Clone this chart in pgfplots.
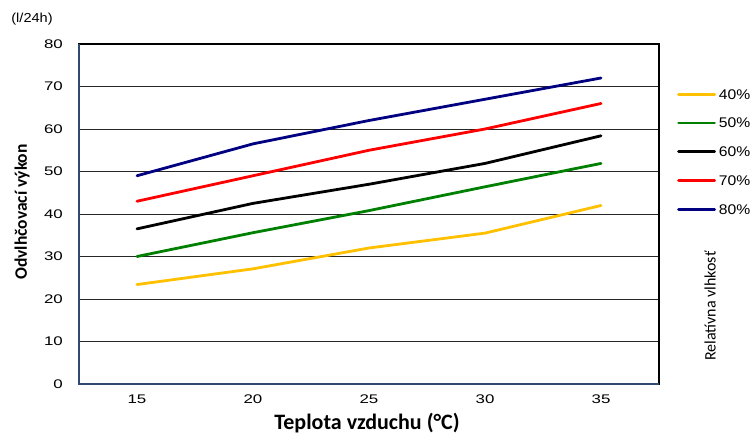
\documentclass[border=0pt]{standalone}
\usepackage{pgfplots}
\pgfplotsset{compat=1.18}
\usepackage{fontspec}
\setmainfont{Liberation Sans}
\newfontfamily\calibri{Carlito}
\newfontfamily\tickfont[FakeStretch=1.35]{Liberation Sans}
\newfontfamily\legfont[FakeStretch=1.12]{Liberation Sans}
\definecolor{cyel}{HTML}{FFC000}
\definecolor{cgrn}{HTML}{008000}
\definecolor{cred}{HTML}{FF0000}
\definecolor{cnav}{HTML}{000080}
\definecolor{cax}{HTML}{2F4A70}
\begin{document}
\begin{tikzpicture}
\useasboundingbox (-79bp,-51bp) rectangle (672bp,384bp);
\begin{axis}[
  at={(0,0)}, anchor=south west,
  scale only axis, width=580bp, height=340bp,
  xmin=12.5, xmax=37.5, ymin=0, ymax=80,
  xtick={15,20,25,30,35}, ytick={0,10,...,80},
  major tick length=0pt,
  ymajorgrids, grid style={black!85, line width=0.9bp},
  axis line style={line width=1.1bp, black},
  /pgf/number format/assume math mode=true,
  tick label style={font=\tickfont\fontsize{12.5bp}{14bp}\selectfont, inner sep=0pt},
  xticklabel style={anchor=north, yshift=-11bp},
  yticklabel style={anchor=east, xshift=-16bp},
  legend style={at={(rel axis cs:1.031,0.8677)}, anchor=north west, draw=none, fill=none,
    inner sep=0pt, font=\legfont\fontsize{14bp}{16bp}\selectfont, row sep=18.75bp,
    nodes={inner sep=0pt, text height=10bp, text depth=0bp},
    /tikz/every odd column/.append style={column sep=3bp}},
  legend cell align=left,
  legend image code/.code={\draw[#1] (0bp,0bp) -- (36bp,0bp);},
  every axis plot/.append style={line width=2.8bp, line join=round, line cap=round},
  clip=false,
]
\addplot[cyel] coordinates {(15,23.4) (20,27.1) (25,32) (30,35.5) (35,42)};
\addlegendentry{40\%}
\addplot[cgrn] coordinates {(15,30) (20,35.6) (25,40.8) (30,46.4) (35,51.9)};
\addlegendentry{50\%}
\addplot[black] coordinates {(15,36.5) (20,42.5) (25,47) (30,51.9) (35,58.4)};
\addlegendentry{60\%}
\addplot[cred] coordinates {(15,43) (20,49) (25,55) (30,60) (35,66)};
\addlegendentry{70\%}
\addplot[cnav] coordinates {(15,49) (20,56.5) (25,62) (30,67) (35,72)};
\addlegendentry{80\%}
\draw[cax, line width=1.3bp] (rel axis cs:0,1) -- (rel axis cs:0,0) -- (rel axis cs:1,0);
\node[anchor=center, font=\calibri\bfseries\fontsize{22bp}{24bp}\selectfont] at (rel axis cs:0.4966,0) [yshift=-39bp] {Teplota vzduchu (°C)};
\node[rotate=90, anchor=center, font=\calibri\bfseries\fontsize{17.5bp}{19bp}\selectfont] at (rel axis cs:0,0.506) [yshift=57bp] {Odvlhčovací výkon};
\node[rotate=90, anchor=center, font=\calibri\fontsize{16bp}{18bp}\selectfont] at (rel axis cs:1.088,0.229) {Relatívna vlhkosť};
\node[anchor=center, font=\legfont\fontsize{13bp}{15bp}\selectfont] at (rel axis cs:-0.081,1.0735) {(l/24h)};
\end{axis}
\end{tikzpicture}
\end{document}
